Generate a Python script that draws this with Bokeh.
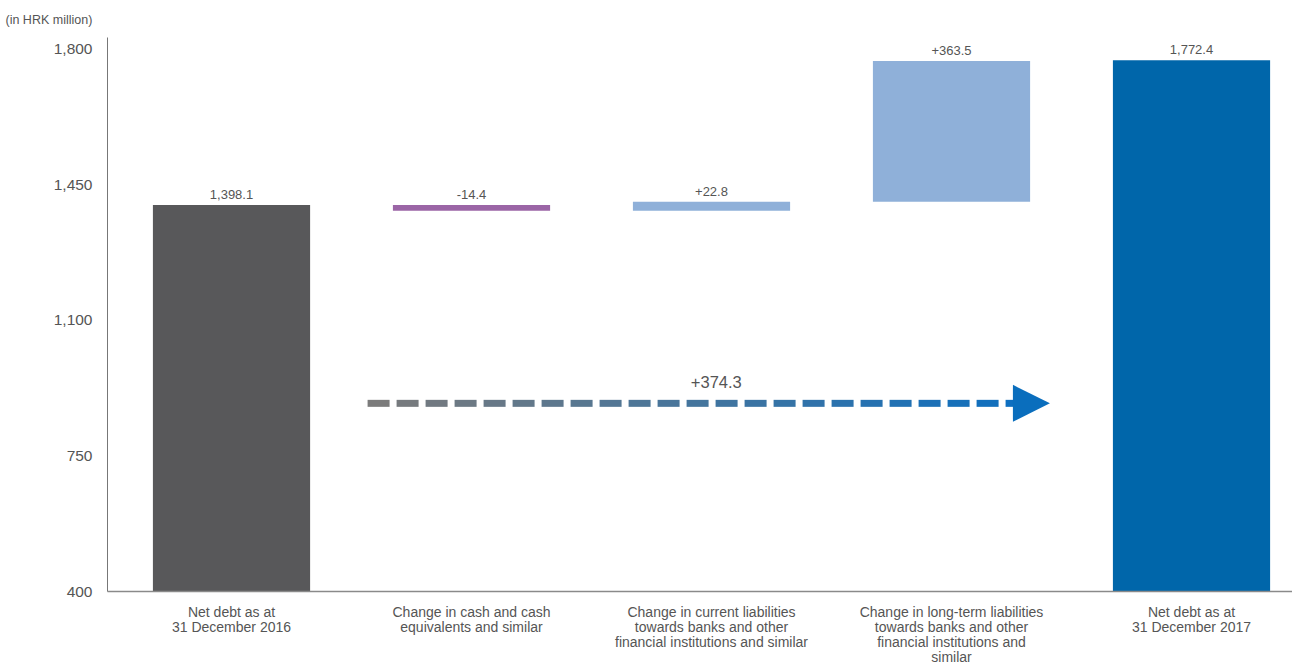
import numpy as np
from bokeh.plotting import figure
from bokeh.models import (FixedTicker, Range1d, Arrow, NormalHead, NumeralTickFormatter,
                          ColumnDataSource, LabelSet, Label)
from bokeh.core.properties import value
from bokeh.embed import file_html
from bokeh.resources import INLINE

# ---------------- data ----------------
categories = [
    "Net debt as at\n31 December 2016",
    "Change in cash and cash\nequivalents and similar",
    "Change in current liabilities\ntowards banks and other\nfinancial institutions and similar",
    "Change in long-term liabilities\ntowards banks and other\nfinancial institutions and\nsimilar",
    "Net debt as at\n31 December 2017",
]
start_value = 1398.1
changes = [-14.4, 22.8, 363.5]
end_value = 1772.4
total_change = 374.3
y_ticks = [400, 750, 1100, 1450, 1800]
unit_label = "(in HRK million)"

# ---------------- styles ----------------
bar_colors = ["#58585a", "#9b65a6", "#8fb0d9", "#8fb0d9", "#0066aa"]
TEXT = "#555555"
FONT = "Liberation Sans"

W, H = 1292, 668
LEFT, TOP, BOTTOM = 107, 36, 77
X0, X1 = -0.5167, 4.4208
Y0 = 400
PPU = (591 - 48) / 1400.0          # pixels per unit on the y axis
Y1 = 1800 + (48 - TOP) / PPU

# waterfall geometry from data
bottoms, tops, labels = [Y0], [start_value], [f"{start_value:,.1f}"]
running = start_value
for d in changes:
    bottoms.append(min(running, running + d))
    tops.append(max(running, running + d))
    labels.append(f"{d:+.1f}")
    running += d
bottoms.append(Y0)
tops.append(end_value)
labels.append(f"{end_value:,.1f}")
xs = list(range(len(categories)))
src = ColumnDataSource(dict(x=xs, bottom=bottoms, top=tops, label=labels, color=bar_colors))

p = figure(width=W, height=H, output_backend="svg", toolbar_location=None,
           x_range=Range1d(X0, X1), y_range=Range1d(Y0, Y1),
           min_border_left=LEFT, min_border_top=TOP, min_border_bottom=BOTTOM,
           min_border_right=0)
p.outline_line_color = None
p.xgrid.grid_line_color = None
p.ygrid.grid_line_color = None
p.background_fill_color = "white"
p.border_fill_color = "white"

p.vbar(x="x", width=0.655, bottom="bottom", top="top", color="color", line_color=None,
       source=src)
p.add_layout(LabelSet(x="x", y="top", text="label", source=src, text_align="center",
                      text_baseline="bottom", y_offset=6, text_font_size=value("13px"),
                      text_color=value(TEXT), text_font=value(FONT)))

# total-change arrow (annotation)
ARROW_Y = 886
ARROW_X0, ARROW_BASE, ARROW_TIP = 0.567, 3.258, 3.41
frame_w = W - LEFT
px = (X1 - X0) / frame_w  # data units per pixel
dash, period = 22 * px, 29 * px
starts = np.arange(ARROW_X0, ARROW_BASE, period)
ends = np.minimum(starts + dash, ARROW_BASE + 3 * px)
c0, c1 = np.array([123, 123, 123]), np.array([14, 111, 192])
tt = np.linspace(0, 1, len(starts))
dash_colors = ["#%02x%02x%02x" % tuple((c0 + (c1 - c0) * t).astype(int)) for t in tt]
p.segment(x0=starts, y0=[ARROW_Y] * len(starts), x1=ends, y1=[ARROW_Y] * len(starts),
          line_width=7, line_color=dash_colors, line_cap="butt")
p.add_layout(Arrow(end=NormalHead(size=37, fill_color="#0a6ebd", line_color=None),
                   x_start=ARROW_BASE - 0.05, y_start=ARROW_Y, x_end=ARROW_TIP, y_end=ARROW_Y,
                   line_alpha=0))
p.add_layout(Label(x=2.02, y=ARROW_Y, text=f"{total_change:+.1f}", text_align="center",
                   text_baseline="middle", y_offset=21, text_font_size="16.5px",
                   text_color=TEXT, text_font=FONT))

# axes
p.xaxis.ticker = FixedTicker(ticks=xs)
p.xaxis.major_label_overrides = {i: c for i, c in zip(xs, categories)}
p.xaxis.major_tick_line_color = None
p.xaxis.minor_tick_line_color = None
p.xaxis.major_tick_out = 0
p.xaxis.major_tick_in = 0
p.xaxis.axis_line_color = "#8a8a8a"
p.xaxis.axis_line_width = 1.5
p.xaxis.major_label_standoff = 12
p.xaxis.major_label_text_font_size = "14px"
p.xaxis.major_label_text_line_height = 0.95
p.xaxis.major_label_text_color = TEXT
p.xaxis.major_label_text_font = FONT

p.yaxis.ticker = FixedTicker(ticks=y_ticks)
p.yaxis.formatter = NumeralTickFormatter(format="0,0")
p.yaxis.major_tick_line_color = None
p.yaxis.minor_tick_line_color = None
p.yaxis.major_tick_out = 0
p.yaxis.major_tick_in = 0
p.yaxis.axis_line_color = "#777777"
p.yaxis.axis_line_width = 1
p.yaxis.major_label_standoff = 15
p.yaxis.major_label_text_font_size = "15.5px"
p.yaxis.major_label_text_color = TEXT
p.yaxis.major_label_text_font = FONT

p.title.text = unit_label
p.title.align = "left"
p.title.offset = -102
p.title.standoff = 21
p.title.text_font_size = "12.5px"
p.title.text_font_style = "normal"
p.title.text_color = TEXT
p.title.text_font = FONT

open("out.html", "w").write(file_html(p, INLINE))
